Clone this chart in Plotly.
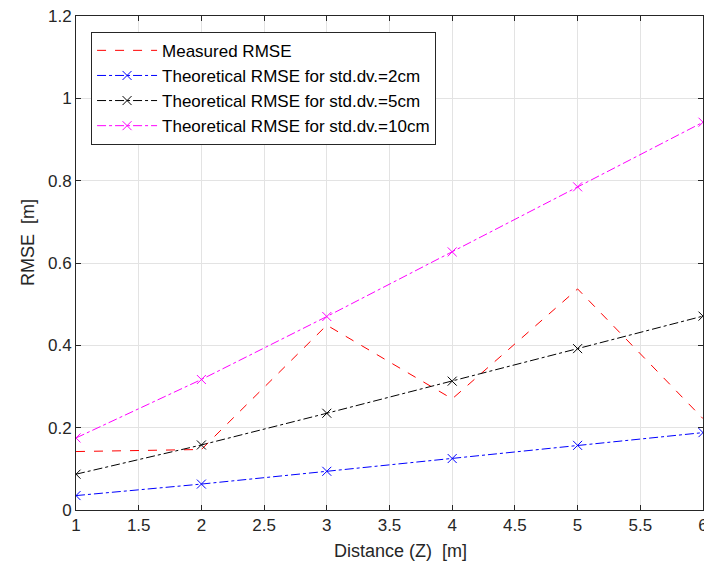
import plotly.graph_objects as go

distance = [1, 2, 3, 4, 5, 6]
measured = [0.142, 0.147, 0.449, 0.270, 0.537, 0.222]
theo_2cm = [0.035, 0.063, 0.094, 0.125, 0.157, 0.188]
theo_5cm = [0.087, 0.158, 0.235, 0.313, 0.392, 0.471]
theo_10cm = [0.175, 0.317, 0.470, 0.627, 0.785, 0.942]

x_ticks = [1, 1.5, 2, 2.5, 3, 3.5, 4, 4.5, 5, 5.5, 6]
y_ticks = [0, 0.2, 0.4, 0.6, 0.8, 1.0, 1.2]
y_tick_text = ["0", "0.2", "0.4", "0.6", "0.8", "1", "1.2"]

font = "Arial, Liberation Sans, sans-serif"
fig = go.Figure()
fig.add_trace(go.Scatter(x=distance, y=measured, mode="lines", name="Measured RMSE",
                         line=dict(color="#FF0000", dash="dash", width=1)))
fig.add_trace(go.Scatter(x=distance, y=theo_2cm, mode="lines+markers",
                         name="Theoretical RMSE for std.dv.=2cm",
                         line=dict(color="#0000FF", dash="dashdot", width=1),
                         marker=dict(symbol="x-thin-open", size=9, line=dict(color="#0000FF", width=1))))
fig.add_trace(go.Scatter(x=distance, y=theo_5cm, mode="lines+markers",
                         name="Theoretical RMSE for std.dv.=5cm",
                         line=dict(color="#000000", dash="dashdot", width=1),
                         marker=dict(symbol="x-thin-open", size=9, line=dict(color="#000000", width=1))))
fig.add_trace(go.Scatter(x=distance, y=theo_10cm, mode="lines+markers",
                         name="Theoretical RMSE for std.dv.=10cm",
                         line=dict(color="#FF00FF", dash="dashdot", width=1),
                         marker=dict(symbol="x-thin-open", size=9, line=dict(color="#FF00FF", width=1))))

axis_common = dict(showgrid=True, gridcolor="#E3E3E3", gridwidth=1, zeroline=False,
                   showline=True, linecolor="#262626", linewidth=1, mirror="ticks",
                   ticks="inside", ticklen=5, tickcolor="#262626", automargin=False,
                   ticklabeloverflow="allow",
                   tickfont=dict(family=font, size=17, color="#262626"))
fig.update_xaxes(range=[1, 6], tickvals=x_ticks, ticktext=[str(v) for v in x_ticks], **axis_common)
fig.update_yaxes(range=[0, 1.2], tickvals=y_ticks, ticktext=y_tick_text, **axis_common)

fig.add_annotation(text="Distance (Z)  [m]", xref="paper", yref="paper", x=0.517, y=-0.083,
                   xanchor="center", yanchor="middle", showarrow=False,
                   font=dict(family=font, size=18, color="#262626"))
fig.add_annotation(text="RMSE  [m]", xref="paper", yref="paper", x=-0.0766, y=0.5425,
                   xanchor="center", yanchor="middle", showarrow=False, textangle=-90,
                   font=dict(family=font, size=18, color="#262626"))

fig.update_layout(width=704, height=570, margin=dict(l=76, r=1, t=16, b=60),
                  plot_bgcolor="white", paper_bgcolor="white",
                  font=dict(family=font, color="#262626"),
                  legend=dict(x=0.024, y=0.968, xanchor="left", yanchor="top",
                              bgcolor="white", bordercolor="#262626", borderwidth=1,
                              font=dict(family=font, size=17, color="#000000"),
                              itemwidth=60, tracegroupgap=0))
fig.write_html("out.html", config={"displayModeBar": False},
               post_script="document.body.style.margin='0';document.body.style.overflow='hidden';")
